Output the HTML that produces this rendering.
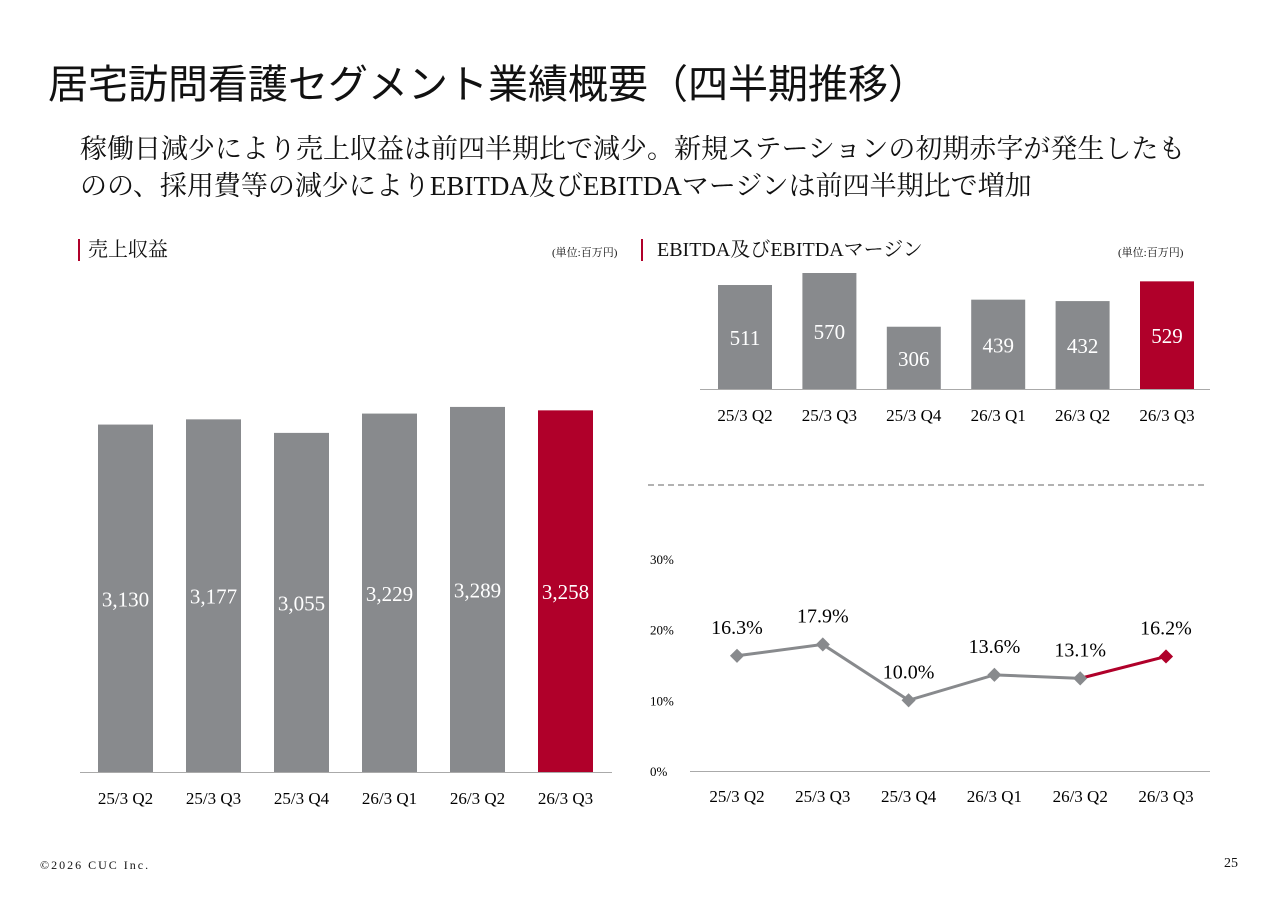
<!DOCTYPE html>
<html><head><meta charset="utf-8"><style>
body{margin:0;width:1280px;height:904px;background:#fff;font-family:"Liberation Serif","Noto Serif CJK JP",serif;color:#111;position:relative;overflow:hidden}
.t{position:absolute;white-space:nowrap}
svg{position:absolute;left:0;top:0}
</style></head><body>
<div class="t" style="left:48px;top:52px;font-size:40px;font-family:'Liberation Sans','Noto Sans CJK JP',sans-serif;font-weight:400">居宅訪問看護セグメント業績概要（四半期推移）</div>
<div class="t" style="left:80px;top:131px;font-size:27px;line-height:37px;font-family:'Liberation Serif','Noto Serif CJK JP',serif">稼働日減少により売上収益は前四半期比で減少。新規ステーションの初期赤字が発生したも<br>のの、採用費等の減少によりEBITDA及びEBITDAマージンは前四半期比で増加</div>
<div class="t" style="left:78px;top:239px;font-size:20px;border-left:2px solid #b0002a;padding-left:8px;line-height:22px">売上収益</div>
<div class="t" style="left:552px;top:244px;font-size:11px">(単位:百万円)</div>
<div class="t" style="left:641px;top:239px;font-size:20px;border-left:2px solid #b0002a;padding-left:14px;line-height:22px">EBITDA及びEBITDAマージン</div>
<div class="t" style="left:1118px;top:244px;font-size:11px">(単位:百万円)</div>
<div class="t" style="left:40px;top:858px;font-size:12px;letter-spacing:2px">©2026 CUC Inc.</div>
<div class="t" style="left:1224px;top:856px;font-size:14px">25</div>
<svg id="c" width="1280" height="904"></svg>
<script>
const categories=["25/3 Q2","25/3 Q3","25/3 Q4","26/3 Q1","26/3 Q2","26/3 Q3"];
const revenue=[3130,3177,3055,3229,3289,3258];
const revenueLabels=["3,130","3,177","3,055","3,229","3,289","3,258"];
const ebitda=[511,570,306,439,432,529];
const margin=[16.3,17.9,10.0,13.6,13.1,16.2];
const marginTicks=[0,10,20,30];
const NS="http://www.w3.org/2000/svg",svg=document.getElementById('c');
function mk(t,a,txt){const e=document.createElementNS(NS,t);for(const k in a)e.setAttribute(k,a[k]);if(txt!=null)e.textContent=txt;svg.appendChild(e);return e;}
const GREY="#888a8d",RED="#b0002a";
const rx=i=>98+i*88, ry=v=>772-v*0.111;
revenue.forEach((v,i)=>{
 const r=mk('rect',{x:rx(i),y:ry(v),width:55,height:772-ry(v),fill:i==5?RED:GREY});
 
 const t=mk('text',{x:rx(i)+27.5,y:(ry(v)+772)/2+8,'text-anchor':'middle',fill:'#fff','font-size':21},revenueLabels[i]);
 
 const c=mk('text',{x:rx(i)+27.5,y:804,'text-anchor':'middle','font-size':17},categories[i]);
 
});
mk('line',{x1:80,x2:612,y1:772.5,y2:772.5,stroke:'#aaa'});
const ex=i=>718+i*84.4, ey=v=>389-v*0.2035;
ebitda.forEach((v,i)=>{
 const r=mk('rect',{x:ex(i),y:ey(v),width:54,height:389-ey(v),fill:i==5?RED:GREY});
 
 const t=mk('text',{x:ex(i)+27,y:(ey(v)+389)/2+8,'text-anchor':'middle',fill:'#fff','font-size':21},String(v));
 
 const c=mk('text',{x:ex(i)+27,y:421,'text-anchor':'middle','font-size':17},categories[i]);
 
});
mk('line',{x1:700,x2:1210,y1:389.5,y2:389.5,stroke:'#aaa'});
mk('line',{x1:648,x2:1208,y1:485,y2:485,stroke:'#666','stroke-dasharray':'6,4'});
const mx=i=>737+i*85.8, my=v=>771-v*7.07;
marginTicks.forEach(v=>{const t=mk('text',{x:650,y:my(v)+5,'font-size':13},v+'%');});
mk('line',{x1:690,x2:1210,y1:771.5,y2:771.5,stroke:'#aaa'});
let p=margin.slice(0,5).map((v,i)=>mx(i)+','+my(v)).join(' ');
mk('polyline',{points:p,fill:'none',stroke:GREY,'stroke-width':3});
mk('line',{x1:mx(4),y1:my(margin[4]),x2:mx(5),y2:my(margin[5]),stroke:RED,'stroke-width':3});
margin.forEach((v,i)=>{
 const d=mk('rect',{x:mx(i)-5,y:my(v)-5,width:10,height:10,fill:i==5?RED:GREY,transform:`rotate(45 ${mx(i)} ${my(v)})`});
 
 const t=mk('text',{x:mx(i),y:my(v)-22,'text-anchor':'middle','font-size':20},v.toFixed(1)+'%');
 
 const c=mk('text',{x:mx(i),y:802,'text-anchor':'middle','font-size':17},categories[i]);
 
});
</script>
</body></html>
